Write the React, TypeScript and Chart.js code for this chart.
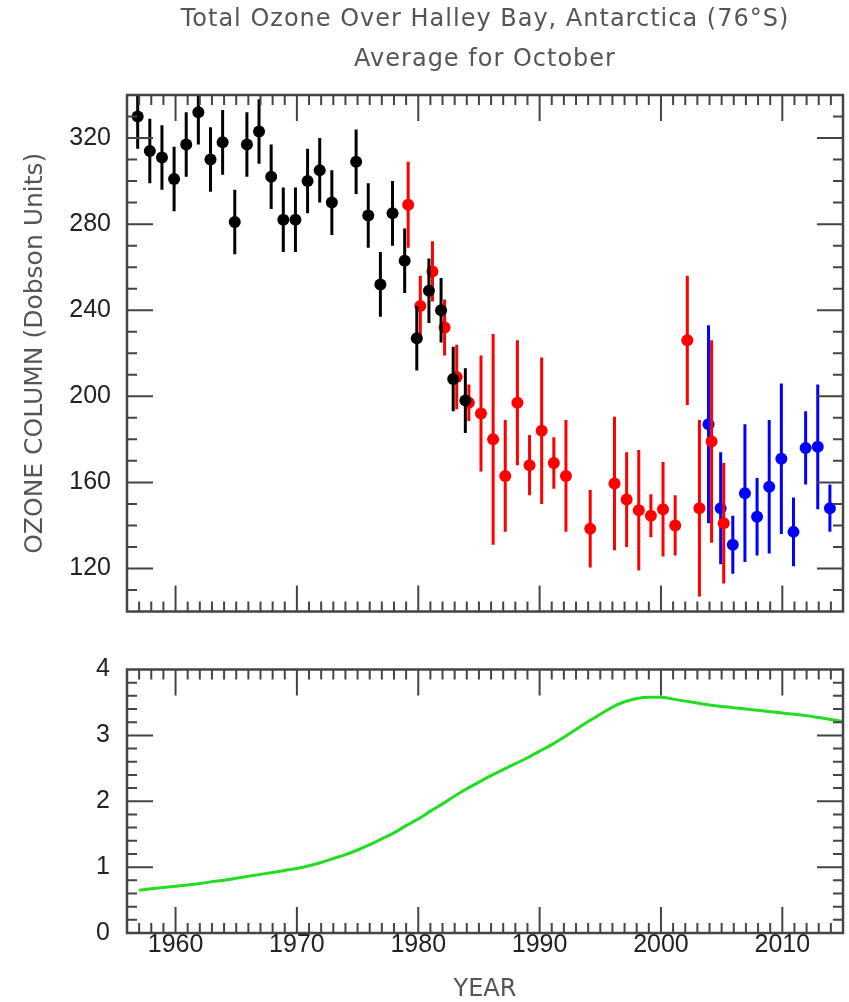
import React, { useEffect, useRef } from 'react';
import { Chart, registerables } from 'chart.js';

Chart.register(...registerables);

// ---------- text ----------
const TITLE_LINES = ['Total Ozone Over Halley Bay, Antarctica (76°S)', 'Average for October'];
const Y_TITLE_TOP = 'OZONE COLUMN (Dobson Units)';
const X_TITLE = 'YEAR';

// ---------- ticks ----------
const X_TICKS = [1960, 1970, 1980, 1990, 2000, 2010];
const OZONE_TICKS = [120, 160, 200, 240, 280, 320];
const CURVE_TICKS = [0, 1, 2, 3, 4];

// ---------- ozone series (Dobson units, +/- error) ----------
const BLACK_YEARS = [1957, 1958, 1959, 1960, 1961, 1962, 1963, 1964, 1965, 1966, 1967, 1968, 1969, 1970, 1971, 1972, 1973,
  1975, 1976, 1977, 1978, 1979, 1980, 1981, 1982, 1983, 1984];
const BLACK_VALUES = [330, 314, 311, 301, 317, 332, 310, 318, 281, 317, 323, 302, 282, 282, 300, 305, 290,
  309, 284, 252, 285, 263, 227, 249, 240, 208, 198];
const BLACK_ERRORS = [15, 15, 15, 15, 15, 15, 15, 15, 15, 15, 15, 15, 15, 15, 15, 15, 15,
  15, 15, 15, 15, 15, 15, 15, 15, 15, 15];

const RED_YEARS = [1979, 1980, 1981, 1982, 1983, 1984, 1985, 1986, 1987, 1988, 1989, 1990, 1991, 1992,
  1994, 1996, 1997, 1998, 1999, 2000, 2001, 2002, 2003, 2004, 2005];
const RED_VALUES = [289, 242, 258, 232, 209, 197, 192, 180, 163, 197, 168, 184, 169, 163,
  138.5, 159.5, 152, 147, 144.5, 147.5, 140, 226, 148, 179, 141];
const RED_ERRORS = [20, 14, 14, 13, 15, 8.5, 27, 49, 26, 29, 14, 34, 12, 26,
  18, 31, 22, 28, 10, 22, 14, 30, 41, 47, 28];

const BLUE_YEARS = [2004, 2005, 2006, 2007, 2008, 2009, 2010, 2011, 2012, 2013, 2014];
const BLUE_VALUES = [187, 148, 131, 155, 144, 158, 171, 137, 176, 176.5, 148];
const BLUE_ERRORS = [46, 26, 13.5, 32, 18, 31, 35, 16, 17, 29, 11];

// ---------- lower panel curve ----------
const CURVE_YEARS = [1957, 1958, 1959, 1960, 1961, 1962, 1963, 1964, 1965, 1966, 1967, 1968, 1969, 1970,
  1971, 1972, 1973, 1974, 1975, 1976, 1977, 1978, 1979, 1980, 1981, 1982, 1983, 1984, 1985, 1986, 1987,
  1988, 1989, 1990, 1991, 1992, 1993, 1994, 1995, 1996, 1997, 1998, 1999, 2000, 2001, 2002, 2003, 2004,
  2005, 2006, 2007, 2008, 2009, 2010, 2011, 2012, 2013, 2014, 2015];
const CURVE_VALUES = [0.65, 0.67, 0.69, 0.71, 0.73, 0.75, 0.78, 0.80, 0.83, 0.86, 0.89, 0.92, 0.95, 0.98,
  1.02, 1.07, 1.13, 1.19, 1.26, 1.34, 1.43, 1.52, 1.63, 1.73, 1.85, 1.96, 2.08, 2.19, 2.29, 2.39, 2.48,
  2.57, 2.66, 2.76, 2.86, 2.97, 3.09, 3.21, 3.32, 3.43, 3.51, 3.56, 3.58, 3.58, 3.55, 3.52, 3.49, 3.46,
  3.44, 3.42, 3.40, 3.38, 3.36, 3.34, 3.32, 3.30, 3.27, 3.24, 3.21];

// plotting offsets of each series within a year
const BLACK_SHIFT = -0.12;
const RED_SHIFT = 0.17;
const BLUE_SHIFT = -0.08;

const X_MIN = 1956;
const X_MAX = 2015;

const TICK_FONT = { family: 'Liberation Sans', size: 25, lineHeight: 1 };
const TITLE_FONT_FAMILY = 'DejaVu Sans';
const AXIS_COLOR = '#444';
const TEXT_COLOR = '#222';
const TITLE_COLOR = '#555';

const errorBarPlugin = {
  id: 'errorBars',
  beforeDatasetDraw(chart: any, args: any) {
    const ds = chart.data.datasets[args.index];
    if (!ds.errors) return;
    const { ctx, chartArea: a, scales } = chart;
    ctx.save();
    ctx.beginPath();
    ctx.rect(a.left, a.top, a.right - a.left, a.bottom - a.top);
    ctx.clip();
    ctx.strokeStyle = ds.barColor;
    ctx.lineWidth = 3;
    ds.data.forEach((p: any, i: number) => {
      const x = scales.x.getPixelForValue(p.x);
      const y1 = scales.y.getPixelForValue(p.y - ds.errors[i]);
      const y2 = scales.y.getPixelForValue(p.y + ds.errors[i]);
      ctx.beginPath();
      ctx.moveTo(x, y1);
      ctx.lineTo(x, y2);
      ctx.stroke();
    });
    ctx.restore();
  },
};

const framePlugin = {
  id: 'frame',
  afterDatasetsDraw(chart: any, _args: any, opts: any) {
    const { ctx, chartArea: a, scales } = chart;
    const xs = scales.x;
    const ys = scales.y;
    const minorLen = 10;
    const majorLen = 26;
    const isMajor = (v: number, m: number) => Math.abs(v / m - Math.round(v / m)) < 1e-6;
    ctx.save();
    ctx.strokeStyle = AXIS_COLOR;
    ctx.lineWidth = 2;
    const nx = Math.round((xs.max - xs.min) / opts.xMinor);
    for (let k = 1; k < nx; k++) {
      const v = xs.min + k * opts.xMinor;
      const px = xs.getPixelForValue(v);
      const len = isMajor(v, opts.xMajor) ? majorLen : minorLen;
      ctx.beginPath();
      ctx.moveTo(px, a.bottom);
      ctx.lineTo(px, a.bottom - len);
      ctx.moveTo(px, a.top);
      ctx.lineTo(px, a.top + len);
      ctx.stroke();
    }
    const ny = Math.round((ys.max - ys.min) / opts.yMinor);
    for (let k = 1; k < ny; k++) {
      const v = ys.min + k * opts.yMinor;
      const py = ys.getPixelForValue(v);
      const len = isMajor(v, opts.yMajor) ? majorLen : minorLen;
      ctx.beginPath();
      ctx.moveTo(a.left, py);
      ctx.lineTo(a.left + len, py);
      ctx.moveTo(a.right, py);
      ctx.lineTo(a.right - len, py);
      ctx.stroke();
    }
    ctx.lineWidth = 2.5;
    ctx.strokeRect(a.left, a.top, a.right - a.left, a.bottom - a.top);
    ctx.restore();
  },
};

const headerPlugin = {
  id: 'header',
  afterDraw(chart: any, _args: any, opts: any) {
    if (!opts || !opts.lines) return;
    const { ctx, chartArea: a } = chart;
    ctx.save();
    ctx.font = `24px "${TITLE_FONT_FAMILY}"`;
    (ctx as any).letterSpacing = '1px';
    ctx.fillStyle = TITLE_COLOR;
    ctx.textAlign = 'center';
    ctx.textBaseline = 'middle';
    const cx = (a.left + a.right) / 2;
    opts.lines.forEach((line: string, i: number) => {
      ctx.fillText(line, cx, opts.firstY + i * opts.lineGap);
    });
    ctx.restore();
  },
};

function toPoints(years: number[], values: number[], shift: number) {
  return years.map((x, i) => ({ x: x + shift, y: values[i] }));
}

function xScale(showLabels: boolean, height: number) {
  return {
    type: 'linear',
    min: X_MIN,
    max: X_MAX,
    grid: { display: false, drawTicks: false },
    border: { display: false },
    afterBuildTicks: (s: any) => {
      s.ticks = X_TICKS.map((value) => ({ value }));
    },
    afterFit: (s: any) => {
      s.height = height;
    },
    ticks: {
      display: showLabels,
      font: TICK_FONT,
      color: TEXT_COLOR,
      padding: 0,
      maxRotation: 0,
      autoSkip: false,
      callback: (v: any) => String(v),
    },
    title: {
      display: showLabels,
      text: X_TITLE,
      font: { family: TITLE_FONT_FAMILY, size: 24, lineHeight: 1 },
      color: TITLE_COLOR,
      padding: { top: 0, bottom: 0 },
    },
  };
}

function seriesDataset(years: number[], values: number[], errors: number[], shift: number, color: string) {
  return {
    data: toPoints(years, values, shift),
    errors,
    barColor: color,
    backgroundColor: color,
    pointRadius: 6,
    pointBorderWidth: 0,
    pointHoverRadius: 6,
  } as any;
}

export default function App() {
  const topRef = useRef<HTMLCanvasElement | null>(null);
  const bottomRef = useRef<HTMLCanvasElement | null>(null);

  useEffect(() => {
    const common = {
      responsive: false,
      animation: false as const,
      events: [] as any[],
      plugins: {
        legend: { display: false },
        tooltip: { enabled: false },
        title: { display: false },
      },
    };

    const top = new Chart(topRef.current as HTMLCanvasElement, {
      type: 'scatter',
      data: {
        datasets: [
          seriesDataset(BLACK_YEARS, BLACK_VALUES, BLACK_ERRORS, BLACK_SHIFT, '#000000'),
          seriesDataset(RED_YEARS, RED_VALUES, RED_ERRORS, RED_SHIFT, '#ff0000'),
          seriesDataset(BLUE_YEARS, BLUE_VALUES, BLUE_ERRORS, BLUE_SHIFT, '#0000ff'),
        ],
      },
      options: {
        ...common,
        layout: { padding: { top: 95, right: 6, left: 0, bottom: 0 } },
        plugins: {
          ...common.plugins,
          frame: { xMinor: 1, xMajor: 10, yMinor: 10, yMajor: 40 },
          header: { lines: TITLE_LINES, firstY: 20, lineGap: 40 },
        } as any,
        scales: {
          x: xScale(false, 9) as any,
          y: {
            type: 'linear',
            min: 100,
            max: 340,
            grid: { display: false, drawTicks: false },
            border: { display: false },
            afterBuildTicks: (s: any) => {
              s.ticks = OZONE_TICKS.map((value) => ({ value }));
            },
            afterFit: (s: any) => {
              s.width = 127;
            },
            ticks: { font: TICK_FONT, color: TEXT_COLOR, padding: 16 },
            title: {
              display: true,
              text: Y_TITLE_TOP,
              font: { family: TITLE_FONT_FAMILY, size: 25, lineHeight: 1.2 },
              color: TITLE_COLOR,
              padding: { top: 20, bottom: 0 },
            },
          } as any,
        },
      },
      plugins: [errorBarPlugin, framePlugin, headerPlugin],
    });

    const bottom = new Chart(bottomRef.current as HTMLCanvasElement, {
      type: 'line',
      data: {
        datasets: [
          {
            data: CURVE_YEARS.map((x, i) => ({ x, y: CURVE_VALUES[i] })),
            borderColor: '#22dd22',
            borderWidth: 3,
            pointRadius: 0,
            cubicInterpolationMode: 'monotone',
            fill: false,
          } as any,
        ],
      },
      options: {
        ...common,
        layout: { padding: { top: 22, right: 6, left: 0, bottom: 0 } },
        plugins: {
          ...common.plugins,
          frame: { xMinor: 1, xMajor: 10, yMinor: 0.2, yMajor: 1 },
        } as any,
        scales: {
          x: xScale(true, 69) as any,
          y: {
            type: 'linear',
            min: 0,
            max: 4,
            grid: { display: false, drawTicks: false },
            border: { display: false },
            afterBuildTicks: (s: any) => {
              s.ticks = CURVE_TICKS.map((value) => ({ value }));
            },
            afterFit: (s: any) => {
              s.width = 127;
            },
            ticks: { font: TICK_FONT, color: TEXT_COLOR, padding: 17 },
          } as any,
        },
      },
      plugins: [framePlugin],
    });

    return () => {
      top.destroy();
      bottom.destroy();
    };
  }, []);

  return (
    <div style={{ position: 'absolute', left: 0, top: 0, width: 849, height: 1002, background: '#fff' }}>
      <canvas ref={topRef} width={849} height={640} style={{ position: 'absolute', left: 0, top: 0, display: 'block' }} />
      <canvas ref={bottomRef} width={849} height={362} style={{ position: 'absolute', left: 0, top: 640, display: 'block' }} />
    </div>
  );
}
